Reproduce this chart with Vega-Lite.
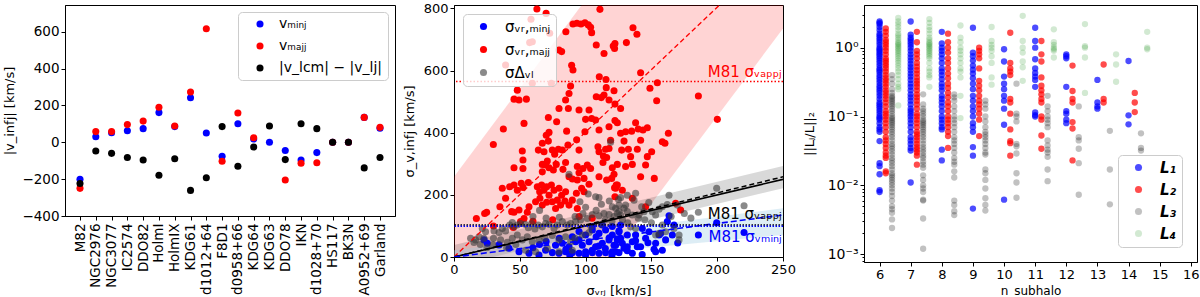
{
 "$schema": "https://vega.github.io/schema/vega-lite/v6.json",
 "padding": {"left": 3, "top": 1, "right": 2, "bottom": 0},
 "spacing": 6,
 "resolve": {"scale": {"color": "independent", "x": "independent", "y": "independent"}},
 "config": {
  "font": "DejaVu Sans",
  "view": {"stroke": "#000", "strokeWidth": 1},
  "axis": {"grid": false, "labelFlush": false, "domainColor": "#000", "tickColor": "#000", "labelColor": "#000", "titleColor": "#000", "labelFontSize": 13, "titleFontSize": 13, "titleFontWeight": "normal", "tickSize": 4, "labelPadding": 2, "titlePadding": 8},
  "legend": {"fillColor": "rgba(255,255,255,0.8)", "strokeColor": "#cccccc", "cornerRadius": 4, "symbolType": "circle", "labelColor": "#000"}
 },
 "datasets": {
  "p1": [
   {"galaxy":"M82","series":"vₘᵢₙⱼ","v":-201},{"galaxy":"NGC2976","series":"vₘᵢₙⱼ","v":30},{"galaxy":"NGC3077","series":"vₘᵢₙⱼ","v":52},{"galaxy":"IC2574","series":"vₘᵢₙⱼ","v":63},{"galaxy":"DDO82","series":"vₘᵢₙⱼ","v":74},{"galaxy":"HolmI","series":"vₘᵢₙⱼ","v":161},{"galaxy":"HolmIX","series":"vₘᵢₙⱼ","v":85},{"galaxy":"KDG61","series":"vₘᵢₙⱼ","v":242},{"galaxy":"d1012+64","series":"vₘᵢₙⱼ","v":50},{"galaxy":"F8D1","series":"vₘᵢₙⱼ","v":-76},{"galaxy":"d0958+66","series":"vₘᵢₙⱼ","v":101},{"galaxy":"KDG64","series":"vₘᵢₙⱼ","v":18},{"galaxy":"KDG63","series":"vₘᵢₙⱼ","v":0},{"galaxy":"DDO78","series":"vₘᵢₙⱼ","v":-45},{"galaxy":"IKN","series":"vₘᵢₙⱼ","v":-96},{"galaxy":"d1028+70","series":"vₘᵢₙⱼ","v":-56},{"galaxy":"HS117","series":"vₘᵢₙⱼ","v":0},{"galaxy":"BK3N","series":"vₘᵢₙⱼ","v":0},{"galaxy":"A0952+69","series":"vₘᵢₙⱼ","v":135},{"galaxy":"Garland","series":"vₘᵢₙⱼ","v":76},
   {"galaxy":"M82","series":"vₘₐⱼⱼ","v":-250},{"galaxy":"NGC2976","series":"vₘₐⱼⱼ","v":58},{"galaxy":"NGC3077","series":"vₘₐⱼⱼ","v":58},{"galaxy":"IC2574","series":"vₘₐⱼⱼ","v":96},{"galaxy":"DDO82","series":"vₘₐⱼⱼ","v":115},{"galaxy":"HolmI","series":"vₘₐⱼⱼ","v":190},{"galaxy":"HolmIX","series":"vₘₐⱼⱼ","v":88},{"galaxy":"KDG61","series":"vₘₐⱼⱼ","v":273},{"galaxy":"d1012+64","series":"vₘₐⱼⱼ","v":616},{"galaxy":"F8D1","series":"vₘₐⱼⱼ","v":-103},{"galaxy":"d0958+66","series":"vₘₐⱼⱼ","v":159},{"galaxy":"KDG64","series":"vₘₐⱼⱼ","v":25},{"galaxy":"DDO78","series":"vₘₐⱼⱼ","v":-205},{"galaxy":"IKN","series":"vₘₐⱼⱼ","v":-114},{"galaxy":"d1028+70","series":"vₘₐⱼⱼ","v":-111},{"galaxy":"HS117","series":"vₘₐⱼⱼ","v":0},{"galaxy":"BK3N","series":"vₘₐⱼⱼ","v":0},{"galaxy":"A0952+69","series":"vₘₐⱼⱼ","v":135},{"galaxy":"Garland","series":"vₘₐⱼⱼ","v":81},
   {"galaxy":"M82","series":"|v_lcm| − |v_lj|","v":-224},{"galaxy":"NGC2976","series":"|v_lcm| − |v_lj|","v":-47},{"galaxy":"NGC3077","series":"|v_lcm| − |v_lj|","v":-60},{"galaxy":"IC2574","series":"|v_lcm| − |v_lj|","v":-83},{"galaxy":"DDO82","series":"|v_lcm| − |v_lj|","v":-96},{"galaxy":"HolmI","series":"|v_lcm| − |v_lj|","v":-179},{"galaxy":"HolmIX","series":"|v_lcm| − |v_lj|","v":-89},{"galaxy":"KDG61","series":"|v_lcm| − |v_lj|","v":-261},{"galaxy":"d1012+64","series":"|v_lcm| − |v_lj|","v":-192},{"galaxy":"F8D1","series":"|v_lcm| − |v_lj|","v":85},{"galaxy":"d0958+66","series":"|v_lcm| − |v_lj|","v":-130},{"galaxy":"KDG64","series":"|v_lcm| − |v_lj|","v":-26},{"galaxy":"KDG63","series":"|v_lcm| − |v_lj|","v":88},{"galaxy":"DDO78","series":"|v_lcm| − |v_lj|","v":-94},{"galaxy":"IKN","series":"|v_lcm| − |v_lj|","v":101},{"galaxy":"d1028+70","series":"|v_lcm| − |v_lj|","v":74},{"galaxy":"HS117","series":"|v_lcm| − |v_lj|","v":0},{"galaxy":"BK3N","series":"|v_lcm| − |v_lj|","v":0},{"galaxy":"A0952+69","series":"|v_lcm| − |v_lj|","v":-139},{"galaxy":"Garland","series":"|v_lcm| − |v_lj|","v":-83}
  ],
  "bands": [
   {"band":"major","x":0,"lo":-673,"hi":258},{"band":"major","x":250,"lo":735,"hi":1683},
   {"band":"dv","x":0,"lo":-30,"hi":39},{"band":"dv","x":250,"lo":221,"hi":293},
   {"band":"minor","x":0,"lo":-29,"hi":22},{"band":"minor","x":250,"lo":71,"hi":157}
  ],
  "fits": [
   {"fit":"major","x":0,"y":0},{"fit":"major","x":250,"y":1005},
   {"fit":"dv","x":0,"y":0},{"fit":"dv","x":250,"y":250},
   {"fit":"dv2","x":0,"y":0},{"fit":"dv2","x":250,"y":258},
   {"fit":"minor","x":0,"y":0},{"fit":"minor","x":250,"y":135}
  ],
  "p2": [
   {"series":"σᵥᵣ,ₘᵢₙⱼ","x":220.4,"y":79},{"series":"σᵥᵣ,ₘᵢₙⱼ","x":185.7,"y":71},{"series":"σᵥᵣ,ₘᵢₙⱼ","x":199.6,"y":110},{"series":"σᵥᵣ,ₘᵢₙⱼ","x":163.4,"y":133},{"series":"σᵥᵣ,ₘᵢₙⱼ","x":160.8,"y":55},{"series":"σᵥᵣ,ₘᵢₙⱼ","x":153.2,"y":17},{"series":"σᵥᵣ,ₘᵢₙⱼ","x":158.3,"y":22},{"series":"σᵥᵣ,ₘᵢₙⱼ","x":139.3,"y":33},{"series":"σᵥᵣ,ₘᵢₙⱼ","x":135.5,"y":49},{"series":"σᵥᵣ,ₘᵢₙⱼ","x":131.7,"y":33},{"series":"σᵥᵣ,ₘᵢₙⱼ","x":127.9,"y":44},{"series":"σᵥᵣ,ₘᵢₙⱼ","x":124.1,"y":55},{"series":"σᵥᵣ,ₘᵢₙⱼ","x":121.6,"y":38},{"series":"σᵥᵣ,ₘᵢₙⱼ","x":131.7,"y":71},{"series":"σᵥᵣ,ₘᵢₙⱼ","x":125.4,"y":84},{"series":"σᵥᵣ,ₘᵢₙⱼ","x":138,"y":71},{"series":"σᵥᵣ,ₘᵢₙⱼ","x":143.1,"y":92},{"series":"σᵥᵣ,ₘᵢₙⱼ","x":145.6,"y":60},{"series":"σᵥᵣ,ₘᵢₙⱼ","x":148.2,"y":81},{"series":"σᵥᵣ,ₘᵢₙⱼ","x":155.8,"y":71},{"series":"σᵥᵣ,ₘᵢₙⱼ","x":165.9,"y":71},{"series":"σᵥᵣ,ₘᵢₙⱼ","x":167.2,"y":103},{"series":"σᵥᵣ,ₘᵢₙⱼ","x":162.1,"y":114},{"series":"σᵥᵣ,ₘᵢₙⱼ","x":122.8,"y":17},{"series":"σᵥᵣ,ₘᵢₙⱼ","x":129.2,"y":28},{"series":"σᵥᵣ,ₘᵢₙⱼ","x":135.5,"y":12},{"series":"σᵥᵣ,ₘᵢₙⱼ","x":153.2,"y":44},
   {"series":"σᵥᵣ,ₘᵢₙⱼ","x":74.7,"y":14},{"series":"σᵥᵣ,ₘᵢₙⱼ","x":79.8,"y":12},{"series":"σᵥᵣ,ₘᵢₙⱼ","x":84.8,"y":17},{"series":"σᵥᵣ,ₘᵢₙⱼ","x":89.9,"y":14},{"series":"σᵥᵣ,ₘᵢₙⱼ","x":95,"y":12},{"series":"σᵥᵣ,ₘᵢₙⱼ","x":100,"y":17},{"series":"σᵥᵣ,ₘᵢₙⱼ","x":105.1,"y":14},{"series":"σᵥᵣ,ₘᵢₙⱼ","x":110.2,"y":12},{"series":"σᵥᵣ,ₘᵢₙⱼ","x":115.2,"y":14},{"series":"σᵥᵣ,ₘᵢₙⱼ","x":120.3,"y":17},{"series":"σᵥᵣ,ₘᵢₙⱼ","x":125.4,"y":14},
   {"series":"σᵥᵣ,ₘᵢₙⱼ","x":77.2,"y":38},{"series":"σᵥᵣ,ₘᵢₙⱼ","x":82.3,"y":44},{"series":"σᵥᵣ,ₘᵢₙⱼ","x":87.4,"y":33},{"series":"σᵥᵣ,ₘᵢₙⱼ","x":92.4,"y":49},{"series":"σᵥᵣ,ₘᵢₙⱼ","x":97.5,"y":38},{"series":"σᵥᵣ,ₘᵢₙⱼ","x":102.6,"y":49},{"series":"σᵥᵣ,ₘᵢₙⱼ","x":107.6,"y":33},{"series":"σᵥᵣ,ₘᵢₙⱼ","x":112.7,"y":44},{"series":"σᵥᵣ,ₘᵢₙⱼ","x":117.8,"y":55},{"series":"σᵥᵣ,ₘᵢₙⱼ","x":122.8,"y":38},{"series":"σᵥᵣ,ₘᵢₙⱼ","x":126.6,"y":60},
   {"series":"σᵥᵣ,ₘᵢₙⱼ","x":89.9,"y":65},{"series":"σᵥᵣ,ₘᵢₙⱼ","x":95,"y":82},{"series":"σᵥᵣ,ₘᵢₙⱼ","x":100,"y":71},{"series":"σᵥᵣ,ₘᵢₙⱼ","x":105.1,"y":87},{"series":"σᵥᵣ,ₘᵢₙⱼ","x":110.2,"y":76},{"series":"σᵥᵣ,ₘᵢₙⱼ","x":115.2,"y":87},{"series":"σᵥᵣ,ₘᵢₙⱼ","x":120.3,"y":71},{"series":"σᵥᵣ,ₘᵢₙⱼ","x":125.4,"y":81},
   {"series":"σᵥᵣ,ₘᵢₙⱼ","x":105.1,"y":98},{"series":"σᵥᵣ,ₘᵢₙⱼ","x":112.7,"y":103},{"series":"σᵥᵣ,ₘᵢₙⱼ","x":120.3,"y":98},{"series":"σᵥᵣ,ₘᵢₙⱼ","x":126.6,"y":103},
   {"series":"σᵥᵣ,ₘᵢₙⱼ","x":22.8,"y":55},{"series":"σᵥᵣ,ₘᵢₙⱼ","x":34.2,"y":39},{"series":"σᵥᵣ,ₘᵢₙⱼ","x":41.8,"y":28},{"series":"σᵥᵣ,ₘᵢₙⱼ","x":49.4,"y":17},{"series":"σᵥᵣ,ₘᵢₙⱼ","x":57,"y":12},{"series":"σᵥᵣ,ₘᵢₙⱼ","x":64.6,"y":6},{"series":"σᵥᵣ,ₘᵢₙⱼ","x":69.6,"y":22},{"series":"σᵥᵣ,ₘᵢₙⱼ","x":25.3,"y":44},
   {"series":"σᵥᵣ,ₘᵢₙⱼ","x":138,"y":52},{"series":"σᵥᵣ,ₘᵢₙⱼ","x":147.4,"y":46},{"series":"σᵥᵣ,ₘᵢₙⱼ","x":141.8,"y":33},{"series":"σᵥᵣ,ₘᵢₙⱼ","x":131.7,"y":20},{"series":"σᵥᵣ,ₘᵢₙⱼ","x":152,"y":25},{"series":"σᵥᵣ,ₘᵢₙⱼ","x":157,"y":76},{"series":"σᵥᵣ,ₘᵢₙⱼ","x":110,"y":35},{"series":"σᵥᵣ,ₘᵢₙⱼ","x":143,"y":8},{"series":"σᵥᵣ,ₘᵢₙⱼ","x":120,"y":5},{"series":"σᵥᵣ,ₘᵢₙⱼ","x":100,"y":6},{"series":"σᵥᵣ,ₘᵢₙⱼ","x":88,"y":6},{"series":"σᵥᵣ,ₘᵢₙⱼ","x":60,"y":30},{"series":"σᵥᵣ,ₘᵢₙⱼ","x":65,"y":40},{"series":"σᵥᵣ,ₘᵢₙⱼ","x":70,"y":50},{"series":"σᵥᵣ,ₘᵢₙⱼ","x":80,"y":60},{"series":"σᵥᵣ,ₘᵢₙⱼ","x":85,"y":25},{"series":"σᵥᵣ,ₘᵢₙⱼ","x":95,"y":55},{"series":"σᵥᵣ,ₘᵢₙⱼ","x":105,"y":22},{"series":"σᵥᵣ,ₘᵢₙⱼ","x":115,"y":27},{"series":"σᵥᵣ,ₘᵢₙⱼ","x":118,"y":62},{"series":"σᵥᵣ,ₘᵢₙⱼ","x":108,"y":65},{"series":"σᵥᵣ,ₘᵢₙⱼ","x":170,"y":45},
   {"series":"σᵥᵣ,ₘₐⱼⱼ","x":63,"y":798},{"series":"σᵥᵣ,ₘₐⱼⱼ","x":70,"y":784},{"series":"σᵥᵣ,ₘₐⱼⱼ","x":72.7,"y":720},{"series":"σᵥᵣ,ₘₐⱼⱼ","x":90.4,"y":750},{"series":"σᵥᵣ,ₘₐⱼⱼ","x":93.4,"y":752},{"series":"σᵥᵣ,ₘₐⱼⱼ","x":96.5,"y":750},{"series":"σᵥᵣ,ₘₐⱼⱼ","x":99.5,"y":754},{"series":"σᵥᵣ,ₘₐⱼⱼ","x":102.1,"y":747},{"series":"σᵥᵣ,ₘₐⱼⱼ","x":103.8,"y":739},{"series":"σᵥᵣ,ₘₐⱼⱼ","x":104.6,"y":722},{"series":"σᵥᵣ,ₘₐⱼⱼ","x":85,"y":725},{"series":"σᵥᵣ,ₘₐⱼⱼ","x":79.8,"y":666},{"series":"σᵥᵣ,ₘₐⱼⱼ","x":81.8,"y":661},{"series":"σᵥᵣ,ₘₐⱼⱼ","x":89.4,"y":617},{"series":"σᵥᵣ,ₘₐⱼⱼ","x":90.4,"y":602},{"series":"σᵥᵣ,ₘₐⱼⱼ","x":108.1,"y":682},{"series":"σᵥᵣ,ₘₐⱼⱼ","x":121,"y":679},{"series":"σᵥᵣ,ₘₐⱼⱼ","x":122.3,"y":687},{"series":"σᵥᵣ,ₘₐⱼⱼ","x":114,"y":655},{"series":"σᵥᵣ,ₘₐⱼⱼ","x":74,"y":559},{"series":"σᵥᵣ,ₘₐⱼⱼ","x":48.1,"y":537},{"series":"σᵥᵣ,ₘₐⱼⱼ","x":45.6,"y":508},{"series":"σᵥᵣ,ₘₐⱼⱼ","x":49.4,"y":505},{"series":"σᵥᵣ,ₘₐⱼⱼ","x":55,"y":508},{"series":"σᵥᵣ,ₘₐⱼⱼ","x":88.6,"y":550},{"series":"σᵥᵣ,ₘₐⱼⱼ","x":87.4,"y":526},{"series":"σᵥᵣ,ₘₐⱼⱼ","x":84.8,"y":505},{"series":"σᵥᵣ,ₘₐⱼⱼ","x":108.1,"y":516},{"series":"σᵥᵣ,ₘₐⱼⱼ","x":111.9,"y":513},{"series":"σᵥᵣ,ₘₐⱼⱼ","x":114,"y":521},{"series":"σᵥᵣ,ₘₐⱼⱼ","x":115.7,"y":545},{"series":"σᵥᵣ,ₘₐⱼⱼ","x":117.8,"y":505},{"series":"σᵥᵣ,ₘₐⱼⱼ","x":110.4,"y":580},{"series":"σᵥᵣ,ₘₐⱼⱼ","x":115.5,"y":571},{"series":"σᵥᵣ,ₘₐⱼⱼ","x":79.8,"y":478},{"series":"σᵥᵣ,ₘₐⱼⱼ","x":71.7,"y":449},{"series":"σᵥᵣ,ₘₐⱼⱼ","x":53.2,"y":430},{"series":"σᵥᵣ,ₘₐⱼⱼ","x":86.9,"y":478},{"series":"σᵥᵣ,ₘₐⱼⱼ","x":95,"y":473},{"series":"σᵥᵣ,ₘₐⱼⱼ","x":102.6,"y":473},{"series":"σᵥᵣ,ₘₐⱼⱼ","x":100,"y":443},{"series":"σᵥᵣ,ₘₐⱼⱼ","x":104.6,"y":446},{"series":"σᵥᵣ,ₘₐⱼⱼ","x":107.6,"y":441},{"series":"σᵥᵣ,ₘₐⱼⱼ","x":78,"y":435},{"series":"σᵥᵣ,ₘₐⱼⱼ","x":99.5,"y":403},{"series":"σᵥᵣ,ₘₐⱼⱼ","x":110.2,"y":409},{"series":"σᵥᵣ,ₘₐⱼⱼ","x":117.8,"y":419},{"series":"σᵥᵣ,ₘₐⱼⱼ","x":122.3,"y":439},{"series":"σᵥᵣ,ₘₐⱼⱼ","x":110.9,"y":797},
   {"series":"σᵥᵣ,ₘₐⱼⱼ","x":58.5,"y":765},{"series":"σᵥᵣ,ₘₐⱼⱼ","x":59.5,"y":693},{"series":"σᵥᵣ,ₘₐⱼⱼ","x":57.5,"y":690},{"series":"σᵥᵣ,ₘₐⱼⱼ","x":39.2,"y":618},{"series":"σᵥᵣ,ₘₐⱼⱼ","x":59.5,"y":559},
   {"series":"σᵥᵣ,ₘₐⱼⱼ","x":136,"y":738},{"series":"σᵥᵣ,ₘₐⱼⱼ","x":139,"y":717},{"series":"σᵥᵣ,ₘₐⱼⱼ","x":131,"y":690},{"series":"σᵥᵣ,ₘₐⱼⱼ","x":122,"y":671},{"series":"σᵥᵣ,ₘₐⱼⱼ","x":141.8,"y":593},{"series":"σᵥᵣ,ₘₐⱼⱼ","x":121.6,"y":535},{"series":"σᵥᵣ,ₘₐⱼⱼ","x":148.9,"y":543},{"series":"σᵥᵣ,ₘₐⱼⱼ","x":154.5,"y":561},{"series":"σᵥᵣ,ₘₐⱼⱼ","x":154,"y":503},{"series":"σᵥᵣ,ₘₐⱼⱼ","x":185.7,"y":518},{"series":"σᵥᵣ,ₘₐⱼⱼ","x":200.1,"y":443},{"series":"σᵥᵣ,ₘₐⱼⱼ","x":122.3,"y":492},{"series":"σᵥᵣ,ₘₐⱼⱼ","x":126.6,"y":478},{"series":"σᵥᵣ,ₘₐⱼⱼ","x":124.1,"y":432},{"series":"σᵥᵣ,ₘₐⱼⱼ","x":138,"y":432},{"series":"σᵥᵣ,ₘₐⱼⱼ","x":162.9,"y":398},
   {"series":"σᵥᵣ,ₘₐⱼⱼ","x":37.5,"y":412},{"series":"σᵥᵣ,ₘₐⱼⱼ","x":29.9,"y":362},{"series":"σᵥᵣ,ₘₐⱼⱼ","x":51.9,"y":341},{"series":"σᵥᵣ,ₘₐⱼⱼ","x":52.4,"y":312},{"series":"σᵥᵣ,ₘₐⱼⱼ","x":64.1,"y":344},{"series":"σᵥᵣ,ₘₐⱼⱼ","x":68.4,"y":339},{"series":"σᵥᵣ,ₘₐⱼⱼ","x":67.1,"y":366},{"series":"σᵥᵣ,ₘₐⱼⱼ","x":71.7,"y":373},{"series":"σᵥᵣ,ₘₐⱼⱼ","x":72.2,"y":401},{"series":"σᵥᵣ,ₘₐⱼⱼ","x":70.1,"y":392},{"series":"σᵥᵣ,ₘₐⱼⱼ","x":74.7,"y":344},{"series":"σᵥᵣ,ₘₐⱼⱼ","x":76.5,"y":331},{"series":"σᵥᵣ,ₘₐⱼⱼ","x":79.3,"y":347},{"series":"σᵥᵣ,ₘₐⱼⱼ","x":82.3,"y":344},{"series":"σᵥᵣ,ₘₐⱼⱼ","x":85.6,"y":405},{"series":"σᵥᵣ,ₘₐⱼⱼ","x":86.6,"y":360},{"series":"σᵥᵣ,ₘₐⱼⱼ","x":93.2,"y":377},{"series":"σᵥᵣ,ₘₐⱼⱼ","x":95,"y":344},{"series":"σᵥᵣ,ₘₐⱼⱼ","x":110.2,"y":339},{"series":"σᵥᵣ,ₘₐⱼⱼ","x":113.5,"y":325},{"series":"σᵥᵣ,ₘₐⱼⱼ","x":115.2,"y":347},{"series":"σᵥᵣ,ₘₐⱼⱼ","x":117.8,"y":349},{"series":"σᵥᵣ,ₘₐⱼⱼ","x":116,"y":320},{"series":"σᵥᵣ,ₘₐⱼⱼ","x":109.4,"y":355},{"series":"σᵥᵣ,ₘₐⱼⱼ","x":113.2,"y":304},{"series":"σᵥᵣ,ₘₐⱼⱼ","x":119,"y":376},{"series":"σᵥᵣ,ₘₐⱼⱼ","x":120.3,"y":287},{"series":"σᵥᵣ,ₘₐⱼⱼ","x":67.1,"y":298},{"series":"σᵥᵣ,ₘₐⱼⱼ","x":69.6,"y":296},{"series":"σᵥᵣ,ₘₐⱼⱼ","x":70.9,"y":309},{"series":"σᵥᵣ,ₘₐⱼⱼ","x":72.2,"y":287},{"series":"σᵥᵣ,ₘₐⱼⱼ","x":77.7,"y":298},{"series":"σᵥᵣ,ₘₐⱼⱼ","x":75.5,"y":280},{"series":"σᵥᵣ,ₘₐⱼⱼ","x":67.1,"y":274},{"series":"σᵥᵣ,ₘₐⱼⱼ","x":45.6,"y":287},{"series":"σᵥᵣ,ₘₐⱼⱼ","x":52.4,"y":285},{"series":"σᵥᵣ,ₘₐⱼⱼ","x":82.8,"y":282},{"series":"σᵥᵣ,ₘₐⱼⱼ","x":84.8,"y":304},{"series":"σᵥᵣ,ₘₐⱼⱼ","x":93.7,"y":291},{"series":"σᵥᵣ,ₘₐⱼⱼ","x":95,"y":271},{"series":"σᵥᵣ,ₘₐⱼⱼ","x":98,"y":285},{"series":"σᵥᵣ,ₘₐⱼⱼ","x":101.3,"y":296},{"series":"σᵥᵣ,ₘₐⱼⱼ","x":87.4,"y":258},{"series":"σᵥᵣ,ₘₐⱼⱼ","x":90,"y":251},{"series":"σᵥᵣ,ₘₐⱼⱼ","x":93.7,"y":248},{"series":"σᵥᵣ,ₘₐⱼⱼ","x":36.7,"y":221},{"series":"σᵥᵣ,ₘₐⱼⱼ","x":42.3,"y":226},{"series":"σᵥᵣ,ₘₐⱼⱼ","x":45.6,"y":232},{"series":"σᵥᵣ,ₘₐⱼⱼ","x":51.1,"y":237},{"series":"σᵥᵣ,ₘₐⱼⱼ","x":48.1,"y":215},{"series":"σᵥᵣ,ₘₐⱼⱼ","x":52.4,"y":224},{"series":"σᵥᵣ,ₘₐⱼⱼ","x":56.5,"y":240},{"series":"σᵥᵣ,ₘₐⱼⱼ","x":63.3,"y":226},{"series":"σᵥᵣ,ₘₐⱼⱼ","x":66.6,"y":232},{"series":"σᵥᵣ,ₘₐⱼⱼ","x":65.1,"y":210},{"series":"σᵥᵣ,ₘₐⱼⱼ","x":68.4,"y":215},{"series":"σᵥᵣ,ₘₐⱼⱼ","x":70.4,"y":226},{"series":"σᵥᵣ,ₘₐⱼⱼ","x":74,"y":232},{"series":"σᵥᵣ,ₘₐⱼⱼ","x":76,"y":215},{"series":"σᵥᵣ,ₘₐⱼⱼ","x":72.2,"y":199},{"series":"σᵥᵣ,ₘₐⱼⱼ","x":79.8,"y":221},{"series":"σᵥᵣ,ₘₐⱼⱼ","x":81.8,"y":199},{"series":"σᵥᵣ,ₘₐⱼⱼ","x":78.5,"y":183},{"series":"σᵥᵣ,ₘₐⱼⱼ","x":84.8,"y":210},{"series":"σᵥᵣ,ₘₐⱼⱼ","x":65.3,"y":189},{"series":"σᵥᵣ,ₘₐⱼⱼ","x":62,"y":178},{"series":"σᵥᵣ,ₘₐⱼⱼ","x":67.1,"y":167},{"series":"σᵥᵣ,ₘₐⱼⱼ","x":70.4,"y":176},{"series":"σᵥᵣ,ₘₐⱼⱼ","x":57,"y":162},{"series":"σᵥᵣ,ₘₐⱼⱼ","x":55.7,"y":144},{"series":"σᵥᵣ,ₘₐⱼⱼ","x":49.4,"y":151},{"series":"σᵥᵣ,ₘₐⱼⱼ","x":45.6,"y":144},{"series":"σᵥᵣ,ₘₐⱼⱼ","x":24.8,"y":144},{"series":"σᵥᵣ,ₘₐⱼⱼ","x":23.3,"y":140},{"series":"σᵥᵣ,ₘₐⱼⱼ","x":17,"y":124},{"series":"σᵥᵣ,ₘₐⱼⱼ","x":34.9,"y":162},{"series":"σᵥᵣ,ₘₐⱼⱼ","x":39.2,"y":189},{"series":"σᵥᵣ,ₘₐⱼⱼ","x":74.7,"y":178},{"series":"σᵥᵣ,ₘₐⱼⱼ","x":77.2,"y":156},{"series":"σᵥᵣ,ₘₐⱼⱼ","x":81,"y":167},{"series":"σᵥᵣ,ₘₐⱼⱼ","x":84.3,"y":180},{"series":"σᵥᵣ,ₘₐⱼⱼ","x":87.4,"y":167},{"series":"σᵥᵣ,ₘₐⱼⱼ","x":89.9,"y":183},{"series":"σᵥᵣ,ₘₐⱼⱼ","x":93,"y":205},{"series":"σᵥᵣ,ₘₐⱼⱼ","x":97,"y":221},{"series":"σᵥᵣ,ₘₐⱼⱼ","x":93.7,"y":156},{"series":"σᵥᵣ,ₘₐⱼⱼ","x":110.2,"y":258},{"series":"σᵥᵣ,ₘₐⱼⱼ","x":116,"y":248},{"series":"σᵥᵣ,ₘₐⱼⱼ","x":119.8,"y":253},{"series":"σᵥᵣ,ₘₐⱼⱼ","x":122,"y":223},{"series":"σᵥᵣ,ₘₐⱼⱼ","x":124.1,"y":232},{"series":"σᵥᵣ,ₘₐⱼⱼ","x":102.6,"y":234},{"series":"σᵥᵣ,ₘₐⱼⱼ","x":98.8,"y":210},{"series":"σᵥᵣ,ₘₐⱼⱼ","x":98.8,"y":253},{"series":"σᵥᵣ,ₘₐⱼⱼ","x":103.8,"y":285},{"series":"σᵥᵣ,ₘₐⱼⱼ","x":43.8,"y":146},{"series":"σᵥᵣ,ₘₐⱼⱼ","x":50.6,"y":114},{"series":"σᵥᵣ,ₘₐⱼⱼ","x":53.2,"y":124},{"series":"σᵥᵣ,ₘₐⱼⱼ","x":30,"y":100},{"series":"σᵥᵣ,ₘₐⱼⱼ","x":45,"y":95},{"series":"σᵥᵣ,ₘₐⱼⱼ","x":60,"y":115},{"series":"σᵥᵣ,ₘₐⱼⱼ","x":75,"y":120},{"series":"σᵥᵣ,ₘₐⱼⱼ","x":95,"y":130},{"series":"σᵥᵣ,ₘₐⱼⱼ","x":105,"y":125},
   {"series":"σᵥᵣ,ₘₐⱼⱼ","x":130.4,"y":403},{"series":"σᵥᵣ,ₘₐⱼⱼ","x":126.6,"y":398},{"series":"σᵥᵣ,ₘₐⱼⱼ","x":135,"y":405},{"series":"σᵥᵣ,ₘₐⱼⱼ","x":140,"y":412},{"series":"σᵥᵣ,ₘₐⱼⱼ","x":143.6,"y":409},{"series":"σᵥᵣ,ₘₐⱼⱼ","x":146.9,"y":416},{"series":"σᵥᵣ,ₘₐⱼⱼ","x":127.4,"y":344},{"series":"σᵥᵣ,ₘₐⱼⱼ","x":129.2,"y":373},{"series":"σᵥᵣ,ₘₐⱼⱼ","x":132.5,"y":347},{"series":"σᵥᵣ,ₘₐⱼⱼ","x":134.2,"y":323},{"series":"σᵥᵣ,ₘₐⱼⱼ","x":139.3,"y":347},{"series":"σᵥᵣ,ₘₐⱼⱼ","x":141.8,"y":376},{"series":"σᵥᵣ,ₘₐⱼⱼ","x":146.9,"y":323},{"series":"σᵥᵣ,ₘₐⱼⱼ","x":150.2,"y":339},{"series":"σᵥᵣ,ₘₐⱼⱼ","x":158.3,"y":371},{"series":"σᵥᵣ,ₘₐⱼⱼ","x":160.3,"y":366},{"series":"σᵥᵣ,ₘₐⱼⱼ","x":145.6,"y":296},{"series":"σᵥᵣ,ₘₐⱼⱼ","x":152.2,"y":253},{"series":"σᵥᵣ,ₘₐⱼⱼ","x":141.8,"y":258},{"series":"σᵥᵣ,ₘₐⱼⱼ","x":135.5,"y":298},{"series":"σᵥᵣ,ₘₐⱼⱼ","x":130.4,"y":291},{"series":"σᵥᵣ,ₘₐⱼⱼ","x":124.1,"y":298},{"series":"σᵥᵣ,ₘₐⱼⱼ","x":121.6,"y":266},{"series":"σᵥᵣ,ₘₐⱼⱼ","x":123.3,"y":232},{"series":"σᵥᵣ,ₘₐⱼⱼ","x":122.8,"y":221},{"series":"σᵥᵣ,ₘₐⱼⱼ","x":127.9,"y":215},{"series":"σᵥᵣ,ₘₐⱼⱼ","x":122.3,"y":194},{"series":"σᵥᵣ,ₘₐⱼⱼ","x":145.6,"y":162},{"series":"σᵥᵣ,ₘₐⱼⱼ","x":172.2,"y":151},{"series":"σᵥᵣ,ₘₐⱼⱼ","x":168.4,"y":173},{"series":"σᵥᵣ,ₘₐⱼⱼ","x":135.5,"y":189},
   {"series":"σΔᵥₗ","x":119,"y":369},{"series":"σΔᵥₗ","x":87.4,"y":266},{"series":"σΔᵥₗ","x":102,"y":203},{"series":"σΔᵥₗ","x":107.6,"y":194},{"series":"σΔᵥₗ","x":110.2,"y":191},{"series":"σΔᵥₗ","x":95.7,"y":178},{"series":"σΔᵥₗ","x":120.3,"y":162},{"series":"σΔᵥₗ","x":125.4,"y":167},{"series":"σΔᵥₗ","x":124.1,"y":140},{"series":"σΔᵥₗ","x":126.6,"y":135},{"series":"σΔᵥₗ","x":117.8,"y":137},{"series":"σΔᵥₗ","x":114,"y":140},{"series":"σΔᵥₗ","x":110.2,"y":133},{"series":"σΔᵥₗ","x":105.1,"y":137},{"series":"σΔᵥₗ","x":101.3,"y":124},{"series":"σΔᵥₗ","x":96.2,"y":119},{"series":"σΔᵥₗ","x":92.4,"y":114},{"series":"σΔᵥₗ","x":88.6,"y":108},{"series":"σΔᵥₗ","x":86.1,"y":103},{"series":"σΔᵥₗ","x":82.3,"y":114},{"series":"σΔᵥₗ","x":78.5,"y":103},{"series":"σΔᵥₗ","x":76,"y":92},{"series":"σΔᵥₗ","x":72.2,"y":105},{"series":"σΔᵥₗ","x":69.6,"y":108},{"series":"σΔᵥₗ","x":67.1,"y":97},{"series":"σΔᵥₗ","x":64,"y":103},{"series":"σΔᵥₗ","x":61.5,"y":90},{"series":"σΔᵥₗ","x":59,"y":108},{"series":"σΔᵥₗ","x":56.5,"y":94},{"series":"σΔᵥₗ","x":54,"y":105},{"series":"σΔᵥₗ","x":50.6,"y":108},{"series":"σΔᵥₗ","x":48.1,"y":103},{"series":"σΔᵥₗ","x":45.6,"y":97},{"series":"σΔᵥₗ","x":44.3,"y":111},{"series":"σΔᵥₗ","x":42.3,"y":103},{"series":"σΔᵥₗ","x":39.2,"y":84},{"series":"σΔᵥₗ","x":36.7,"y":92},{"series":"σΔᵥₗ","x":34.2,"y":79},{"series":"σΔᵥₗ","x":30.4,"y":84},{"series":"σΔᵥₗ","x":24,"y":81},{"series":"σΔᵥₗ","x":21.5,"y":92},{"series":"σΔᵥₗ","x":19,"y":65},{"series":"σΔᵥₗ","x":15.2,"y":47},{"series":"σΔᵥₗ","x":12.6,"y":60},{"series":"σΔᵥₗ","x":29.6,"y":39},{"series":"σΔᵥₗ","x":35.4,"y":55},{"series":"σΔᵥₗ","x":40.5,"y":47},{"series":"σΔᵥₗ","x":44.3,"y":60},{"series":"σΔᵥₗ","x":48.1,"y":71},{"series":"σΔᵥₗ","x":51.9,"y":55},{"series":"σΔᵥₗ","x":55.7,"y":65},{"series":"σΔᵥₗ","x":59.5,"y":49},{"series":"σΔᵥₗ","x":64.6,"y":55},{"series":"σΔᵥₗ","x":69.1,"y":60},{"series":"σΔᵥₗ","x":74.7,"y":69},{"series":"σΔᵥₗ","x":79.8,"y":55},{"series":"σΔᵥₗ","x":84.8,"y":65},{"series":"σΔᵥₗ","x":88.6,"y":49},{"series":"σΔᵥₗ","x":91.9,"y":60},{"series":"σΔᵥₗ","x":97.5,"y":71},{"series":"σΔᵥₗ","x":102.6,"y":79},{"series":"σΔᵥₗ","x":54.4,"y":22},{"series":"σΔᵥₗ","x":62,"y":17},{"series":"σΔᵥₗ","x":70.9,"y":28},{"series":"σΔᵥₗ","x":79.8,"y":17},{"series":"σΔᵥₗ","x":89.9,"y":22},{"series":"σΔᵥₗ","x":22.8,"y":60},{"series":"σΔᵥₗ","x":16.4,"y":55},
   {"series":"σΔᵥₗ","x":98,"y":140},{"series":"σΔᵥₗ","x":108,"y":150},{"series":"σΔᵥₗ","x":115,"y":120},{"series":"σΔᵥₗ","x":112,"y":105},{"series":"σΔᵥₗ","x":120,"y":115},{"series":"σΔᵥₗ","x":104,"y":98},{"series":"σΔᵥₗ","x":92,"y":130},{"series":"σΔᵥₗ","x":80,"y":128},{"series":"σΔᵥₗ","x":70,"y":125},{"series":"σΔᵥₗ","x":60,"y":130},{"series":"σΔᵥₗ","x":100,"y":160},{"series":"σΔᵥₗ","x":118,"y":180},{"series":"σΔᵥₗ","x":125,"y":185},{"series":"σΔᵥₗ","x":112,"y":170},{"series":"σΔᵥₗ","x":65,"y":150},{"series":"σΔᵥₗ","x":30,"y":60},{"series":"σΔᵥₗ","x":25,"y":30},{"series":"σΔᵥₗ","x":20,"y":40},{"series":"σΔᵥₗ","x":40,"y":30},{"series":"σΔᵥₗ","x":47,"y":40},
   {"series":"σΔᵥₗ","x":199.6,"y":221},{"series":"σΔᵥₗ","x":220.4,"y":165},{"series":"σΔᵥₗ","x":185.7,"y":144},{"series":"σΔᵥₗ","x":163.4,"y":199},{"series":"σΔᵥₗ","x":169.7,"y":167},{"series":"σΔᵥₗ","x":162.1,"y":169},{"series":"σΔᵥₗ","x":158.3,"y":162},{"series":"σΔᵥₗ","x":155.8,"y":154},{"series":"σΔᵥₗ","x":150.7,"y":146},{"series":"σΔᵥₗ","x":153.2,"y":135},{"series":"σΔᵥₗ","x":144.4,"y":146},{"series":"σΔᵥₗ","x":140.6,"y":135},{"series":"σΔᵥₗ","x":135.5,"y":135},{"series":"σΔᵥₗ","x":131.7,"y":146},{"series":"σΔᵥₗ","x":129.2,"y":157},{"series":"σΔᵥₗ","x":125.4,"y":146},{"series":"σΔᵥₗ","x":122.8,"y":157},{"series":"σΔᵥₗ","x":121.6,"y":130},{"series":"σΔᵥₗ","x":138,"y":205},{"series":"σΔᵥₗ","x":131.7,"y":199},{"series":"σΔᵥₗ","x":136.8,"y":183},{"series":"σΔᵥₗ","x":126.6,"y":191},{"series":"σΔᵥₗ","x":130.4,"y":167},{"series":"σΔᵥₗ","x":142.6,"y":162},{"series":"σΔᵥₗ","x":158.3,"y":103},{"series":"σΔᵥₗ","x":160.8,"y":81},{"series":"σΔᵥₗ","x":171,"y":71},{"series":"σΔᵥₗ","x":171,"y":55},{"series":"σΔᵥₗ","x":155.8,"y":76},{"series":"σΔᵥₗ","x":167.2,"y":92},{"series":"σΔᵥₗ","x":153.2,"y":71},{"series":"σΔᵥₗ","x":134.2,"y":97},{"series":"σΔᵥₗ","x":138,"y":92},{"series":"σΔᵥₗ","x":145,"y":120},{"series":"σΔᵥₗ","x":150,"y":110},{"series":"σΔᵥₗ","x":128,"y":120},{"series":"σΔᵥₗ","x":140,"y":125},{"series":"σΔᵥₗ","x":132,"y":110},{"series":"σΔᵥₗ","x":148,"y":175},{"series":"σΔᵥₗ","x":165,"y":130},{"series":"σΔᵥₗ","x":175,"y":140},{"series":"σΔᵥₗ","x":180,"y":125}
  ],
  "p3": [
   {"series":"L₁","x":6,"y":2.4},{"series":"L₁","x":6,"y":2.3},{"series":"L₁","x":6,"y":2.2},{"series":"L₁","x":6,"y":2.0},{"series":"L₁","x":6,"y":1.8},{"series":"L₁","x":6,"y":1.6},{"series":"L₁","x":6,"y":1.5},{"series":"L₁","x":6,"y":1.4},{"series":"L₁","x":6,"y":1.3},{"series":"L₁","x":6,"y":1.2},{"series":"L₁","x":6,"y":1.1},{"series":"L₁","x":6,"y":1.0},{"series":"L₁","x":6,"y":0.95},{"series":"L₁","x":6,"y":0.9},{"series":"L₁","x":6,"y":0.85},{"series":"L₁","x":6,"y":0.8},{"series":"L₁","x":6,"y":0.75},{"series":"L₁","x":6,"y":0.7},{"series":"L₁","x":6,"y":0.65},{"series":"L₁","x":6,"y":0.6},{"series":"L₁","x":6,"y":0.55},{"series":"L₁","x":6,"y":0.5},{"series":"L₁","x":6,"y":0.47},{"series":"L₁","x":6,"y":0.44},{"series":"L₁","x":6,"y":0.4},{"series":"L₁","x":6,"y":0.37},{"series":"L₁","x":6,"y":0.34},{"series":"L₁","x":6,"y":0.31},{"series":"L₁","x":6,"y":0.28},{"series":"L₁","x":6,"y":0.26},{"series":"L₁","x":6,"y":0.24},{"series":"L₁","x":6,"y":0.22},{"series":"L₁","x":6,"y":0.2},{"series":"L₁","x":6,"y":0.18},{"series":"L₁","x":6,"y":0.16},{"series":"L₁","x":6,"y":0.15},{"series":"L₁","x":6,"y":0.14},{"series":"L₁","x":6,"y":0.13},{"series":"L₁","x":6,"y":0.12},{"series":"L₁","x":6,"y":0.11},{"series":"L₁","x":6,"y":0.1},{"series":"L₁","x":6,"y":0.095},{"series":"L₁","x":6,"y":0.09},{"series":"L₁","x":6,"y":0.08},{"series":"L₁","x":6,"y":0.07},{"series":"L₁","x":6,"y":0.065},{"series":"L₁","x":6,"y":0.06},{"series":"L₁","x":6,"y":0.044},{"series":"L₁","x":6,"y":0.021},{"series":"L₁","x":6,"y":0.019},{"series":"L₁","x":6,"y":0.0145},{"series":"L₁","x":6,"y":0.0085},{"series":"L₁","x":6,"y":0.008},
   {"series":"L₁","x":7,"y":2.4},{"series":"L₁","x":7,"y":1.55},{"series":"L₁","x":7,"y":1.4},{"series":"L₁","x":7,"y":1.3},{"series":"L₁","x":7,"y":1.2},{"series":"L₁","x":7,"y":1.1},{"series":"L₁","x":7,"y":1.0},{"series":"L₁","x":7,"y":0.9},{"series":"L₁","x":7,"y":0.8},{"series":"L₁","x":7,"y":0.72},{"series":"L₁","x":7,"y":0.65},{"series":"L₁","x":7,"y":0.58},{"series":"L₁","x":7,"y":0.52},{"series":"L₁","x":7,"y":0.47},{"series":"L₁","x":7,"y":0.42},{"series":"L₁","x":7,"y":0.38},{"series":"L₁","x":7,"y":0.34},{"series":"L₁","x":7,"y":0.3},{"series":"L₁","x":7,"y":0.27},{"series":"L₁","x":7,"y":0.24},{"series":"L₁","x":7,"y":0.21},{"series":"L₁","x":7,"y":0.19},{"series":"L₁","x":7,"y":0.17},{"series":"L₁","x":7,"y":0.15},{"series":"L₁","x":7,"y":0.13},{"series":"L₁","x":7,"y":0.12},{"series":"L₁","x":7,"y":0.11},{"series":"L₁","x":7,"y":0.1},{"series":"L₁","x":7,"y":0.09},{"series":"L₁","x":7,"y":0.08},{"series":"L₁","x":7,"y":0.07},{"series":"L₁","x":7,"y":0.06},{"series":"L₁","x":7,"y":0.05},{"series":"L₁","x":7,"y":0.045},{"series":"L₁","x":7,"y":0.04},{"series":"L₁","x":7,"y":0.035},{"series":"L₁","x":7,"y":0.032},{"series":"L₁","x":7,"y":0.011},
   {"series":"L₁","x":8,"y":1.7},{"series":"L₁","x":8,"y":1.15},{"series":"L₁","x":8,"y":1.0},{"series":"L₁","x":8,"y":0.9},{"series":"L₁","x":8,"y":0.8},{"series":"L₁","x":8,"y":0.7},{"series":"L₁","x":8,"y":0.6},{"series":"L₁","x":8,"y":0.5},{"series":"L₁","x":8,"y":0.45},{"series":"L₁","x":8,"y":0.4},{"series":"L₁","x":8,"y":0.35},{"series":"L₁","x":8,"y":0.3},{"series":"L₁","x":8,"y":0.27},{"series":"L₁","x":8,"y":0.24},{"series":"L₁","x":8,"y":0.2},{"series":"L₁","x":8,"y":0.18},{"series":"L₁","x":8,"y":0.16},{"series":"L₁","x":8,"y":0.14},{"series":"L₁","x":8,"y":0.12},{"series":"L₁","x":8,"y":0.1},{"series":"L₁","x":8,"y":0.09},{"series":"L₁","x":8,"y":0.08},{"series":"L₁","x":8,"y":0.07},{"series":"L₁","x":8,"y":0.065},{"series":"L₁","x":8,"y":0.033},{"series":"L₁","x":8,"y":0.023},
   {"series":"L₁","x":9,"y":1.95},{"series":"L₁","x":9,"y":0.85},{"series":"L₁","x":9,"y":0.75},{"series":"L₁","x":9,"y":0.65},{"series":"L₁","x":9,"y":0.55},{"series":"L₁","x":9,"y":0.48},{"series":"L₁","x":9,"y":0.42},{"series":"L₁","x":9,"y":0.36},{"series":"L₁","x":9,"y":0.3},{"series":"L₁","x":9,"y":0.25},{"series":"L₁","x":9,"y":0.2},{"series":"L₁","x":9,"y":0.17},{"series":"L₁","x":9,"y":0.14},{"series":"L₁","x":9,"y":0.12},{"series":"L₁","x":9,"y":0.1},{"series":"L₁","x":9,"y":0.08},{"series":"L₁","x":9,"y":0.07},{"series":"L₁","x":9,"y":0.06},{"series":"L₁","x":9,"y":0.036},{"series":"L₁","x":9,"y":0.027},{"series":"L₁","x":9,"y":0.0046},
   {"series":"L₁","x":10,"y":0.95},{"series":"L₁","x":10,"y":0.63},{"series":"L₁","x":10,"y":0.38},{"series":"L₁","x":10,"y":0.3},{"series":"L₁","x":10,"y":0.25},{"series":"L₁","x":10,"y":0.2},{"series":"L₁","x":10,"y":0.17},{"series":"L₁","x":10,"y":0.13},{"series":"L₁","x":10,"y":0.076},{"series":"L₁","x":10,"y":0.0062},
   {"series":"L₁","x":11,"y":1.95},{"series":"L₁","x":11,"y":1.25},{"series":"L₁","x":11,"y":1.0},{"series":"L₁","x":11,"y":0.68},{"series":"L₁","x":11,"y":0.5},{"series":"L₁","x":11,"y":0.43},{"series":"L₁","x":11,"y":0.38},{"series":"L₁","x":11,"y":0.34},{"series":"L₁","x":11,"y":0.27},{"series":"L₁","x":11,"y":0.115},{"series":"L₁","x":11,"y":0.105},{"series":"L₁","x":11,"y":0.1},
   {"series":"L₁","x":12,"y":0.8},{"series":"L₁","x":12,"y":0.75},{"series":"L₁","x":12,"y":0.7},{"series":"L₁","x":12,"y":0.27},{"series":"L₁","x":12,"y":0.12},{"series":"L₁","x":12,"y":0.11},{"series":"L₁","x":12,"y":0.09},{"series":"L₁","x":12,"y":0.08},
   {"series":"L₁","x":13,"y":0.34},{"series":"L₁","x":13,"y":0.16},{"series":"L₁","x":13,"y":0.14},{"series":"L₁","x":13,"y":0.13},
   {"series":"L₁","x":14,"y":0.64},{"series":"L₁","x":14,"y":0.104},{"series":"L₁","x":14,"y":0.077},
   {"series":"L₂","x":6.2,"y":1.9},{"series":"L₂","x":6.2,"y":1.7},{"series":"L₂","x":6.2,"y":1.5},{"series":"L₂","x":6.2,"y":1.3},{"series":"L₂","x":6.2,"y":1.2},{"series":"L₂","x":6.2,"y":1.1},{"series":"L₂","x":6.2,"y":1.0},{"series":"L₂","x":6.2,"y":0.9},{"series":"L₂","x":6.2,"y":0.8},{"series":"L₂","x":6.2,"y":0.7},{"series":"L₂","x":6.2,"y":0.65},{"series":"L₂","x":6.2,"y":0.6},{"series":"L₂","x":6.2,"y":0.55},{"series":"L₂","x":6.2,"y":0.5},{"series":"L₂","x":6.2,"y":0.45},{"series":"L₂","x":6.2,"y":0.4},{"series":"L₂","x":6.2,"y":0.36},{"series":"L₂","x":6.2,"y":0.33},{"series":"L₂","x":6.2,"y":0.3},{"series":"L₂","x":6.2,"y":0.27},{"series":"L₂","x":6.2,"y":0.24},{"series":"L₂","x":6.2,"y":0.22},{"series":"L₂","x":6.2,"y":0.2},{"series":"L₂","x":6.2,"y":0.18},{"series":"L₂","x":6.2,"y":0.16},{"series":"L₂","x":6.2,"y":0.14},{"series":"L₂","x":6.2,"y":0.12},{"series":"L₂","x":6.2,"y":0.11},{"series":"L₂","x":6.2,"y":0.1},{"series":"L₂","x":6.2,"y":0.09},{"series":"L₂","x":6.2,"y":0.08},{"series":"L₂","x":6.2,"y":0.07},{"series":"L₂","x":6.2,"y":0.06},{"series":"L₂","x":6.2,"y":0.05},{"series":"L₂","x":6.2,"y":0.045},{"series":"L₂","x":6.2,"y":0.04},{"series":"L₂","x":6.2,"y":0.035},{"series":"L₂","x":6.2,"y":0.03},{"series":"L₂","x":6.2,"y":0.027},{"series":"L₂","x":6.2,"y":0.025},{"series":"L₂","x":6.2,"y":0.016},{"series":"L₂","x":6.2,"y":0.015},
   {"series":"L₂","x":7.2,"y":1.7},{"series":"L₂","x":7.2,"y":1.2},{"series":"L₂","x":7.2,"y":0.9},{"series":"L₂","x":7.2,"y":0.8},{"series":"L₂","x":7.2,"y":0.7},{"series":"L₂","x":7.2,"y":0.6},{"series":"L₂","x":7.2,"y":0.53},{"series":"L₂","x":7.2,"y":0.47},{"series":"L₂","x":7.2,"y":0.42},{"series":"L₂","x":7.2,"y":0.37},{"series":"L₂","x":7.2,"y":0.33},{"series":"L₂","x":7.2,"y":0.3},{"series":"L₂","x":7.2,"y":0.27},{"series":"L₂","x":7.2,"y":0.24},{"series":"L₂","x":7.2,"y":0.21},{"series":"L₂","x":7.2,"y":0.19},{"series":"L₂","x":7.2,"y":0.17},{"series":"L₂","x":7.2,"y":0.15},{"series":"L₂","x":7.2,"y":0.13},{"series":"L₂","x":7.2,"y":0.11},{"series":"L₂","x":7.2,"y":0.1},{"series":"L₂","x":7.2,"y":0.09},{"series":"L₂","x":7.2,"y":0.08},{"series":"L₂","x":7.2,"y":0.07},{"series":"L₂","x":7.2,"y":0.06},{"series":"L₂","x":7.2,"y":0.055},{"series":"L₂","x":7.2,"y":0.05},{"series":"L₂","x":7.2,"y":0.045},{"series":"L₂","x":7.2,"y":0.04},{"series":"L₂","x":7.2,"y":0.036},{"series":"L₂","x":7.2,"y":0.033},{"series":"L₂","x":7.2,"y":0.03},{"series":"L₂","x":7.2,"y":0.027},{"series":"L₂","x":7.2,"y":0.02},
   {"series":"L₂","x":8.2,"y":1.6},{"series":"L₂","x":8.2,"y":1.2},{"series":"L₂","x":8.2,"y":1.0},{"series":"L₂","x":8.2,"y":0.85},{"series":"L₂","x":8.2,"y":0.7},{"series":"L₂","x":8.2,"y":0.6},{"series":"L₂","x":8.2,"y":0.5},{"series":"L₂","x":8.2,"y":0.42},{"series":"L₂","x":8.2,"y":0.36},{"series":"L₂","x":8.2,"y":0.3},{"series":"L₂","x":8.2,"y":0.26},{"series":"L₂","x":8.2,"y":0.22},{"series":"L₂","x":8.2,"y":0.19},{"series":"L₂","x":8.2,"y":0.16},{"series":"L₂","x":8.2,"y":0.14},{"series":"L₂","x":8.2,"y":0.12},{"series":"L₂","x":8.2,"y":0.1},{"series":"L₂","x":8.2,"y":0.09},{"series":"L₂","x":8.2,"y":0.08},{"series":"L₂","x":8.2,"y":0.07},{"series":"L₂","x":8.2,"y":0.06},{"series":"L₂","x":8.2,"y":0.052},{"series":"L₂","x":8.2,"y":0.035},
   {"series":"L₂","x":9.2,"y":1.0},{"series":"L₂","x":9.2,"y":0.9},{"series":"L₂","x":9.2,"y":0.8},{"series":"L₂","x":9.2,"y":0.7},{"series":"L₂","x":9.2,"y":0.5},{"series":"L₂","x":9.2,"y":0.33},{"series":"L₂","x":9.2,"y":0.28},{"series":"L₂","x":9.2,"y":0.24},{"series":"L₂","x":9.2,"y":0.2},{"series":"L₂","x":9.2,"y":0.17},{"series":"L₂","x":9.2,"y":0.15},{"series":"L₂","x":9.2,"y":0.13},{"series":"L₂","x":9.2,"y":0.11},{"series":"L₂","x":9.2,"y":0.09},{"series":"L₂","x":9.2,"y":0.052},
   {"series":"L₂","x":10.2,"y":1.65},{"series":"L₂","x":10.2,"y":0.6},{"series":"L₂","x":10.2,"y":0.5},{"series":"L₂","x":10.2,"y":0.45},{"series":"L₂","x":10.2,"y":0.4},{"series":"L₂","x":10.2,"y":0.18},{"series":"L₂","x":10.2,"y":0.16},{"series":"L₂","x":10.2,"y":0.11},{"series":"L₂","x":10.2,"y":0.065},{"series":"L₂","x":10.2,"y":0.044},{"series":"L₂","x":10.2,"y":0.041},{"series":"L₂","x":10.2,"y":0.027},
   {"series":"L₂","x":11.2,"y":1.25},{"series":"L₂","x":11.2,"y":0.8},{"series":"L₂","x":11.2,"y":0.63},{"series":"L₂","x":11.2,"y":0.37},{"series":"L₂","x":11.2,"y":0.28},{"series":"L₂","x":11.2,"y":0.24},{"series":"L₂","x":11.2,"y":0.21},{"series":"L₂","x":11.2,"y":0.18},{"series":"L₂","x":11.2,"y":0.16},{"series":"L₂","x":11.2,"y":0.1},{"series":"L₂","x":11.2,"y":0.09},{"series":"L₂","x":11.2,"y":0.053},{"series":"L₂","x":11.2,"y":0.034},
   {"series":"L₂","x":12.2,"y":0.55},{"series":"L₂","x":12.2,"y":0.235},{"series":"L₂","x":12.2,"y":0.18},{"series":"L₂","x":12.2,"y":0.16},{"series":"L₂","x":12.2,"y":0.083},{"series":"L₂","x":12.2,"y":0.067},{"series":"L₂","x":12.2,"y":0.023},
   {"series":"L₂","x":13.2,"y":0.57},{"series":"L₂","x":13.2,"y":0.18},{"series":"L₂","x":13.2,"y":0.16},
   {"series":"L₂","x":14.2,"y":0.22},{"series":"L₂","x":14.2,"y":0.16},{"series":"L₂","x":14.2,"y":0.116},
   {"series":"L₃","x":6.4,"y":0.4},{"series":"L₃","x":6.4,"y":0.35},{"series":"L₃","x":6.4,"y":0.3},{"series":"L₃","x":6.4,"y":0.25},{"series":"L₃","x":6.4,"y":0.22},{"series":"L₃","x":6.4,"y":0.2},{"series":"L₃","x":6.4,"y":0.19},{"series":"L₃","x":6.4,"y":0.18},{"series":"L₃","x":6.4,"y":0.17},{"series":"L₃","x":6.4,"y":0.16},{"series":"L₃","x":6.4,"y":0.15},{"series":"L₃","x":6.4,"y":0.14},{"series":"L₃","x":6.4,"y":0.13},{"series":"L₃","x":6.4,"y":0.12},{"series":"L₃","x":6.4,"y":0.11},{"series":"L₃","x":6.4,"y":0.1},{"series":"L₃","x":6.4,"y":0.095},{"series":"L₃","x":6.4,"y":0.09},{"series":"L₃","x":6.4,"y":0.085},{"series":"L₃","x":6.4,"y":0.08},{"series":"L₃","x":6.4,"y":0.075},{"series":"L₃","x":6.4,"y":0.07},{"series":"L₃","x":6.4,"y":0.065},{"series":"L₃","x":6.4,"y":0.06},{"series":"L₃","x":6.4,"y":0.055},{"series":"L₃","x":6.4,"y":0.05},{"series":"L₃","x":6.4,"y":0.045},{"series":"L₃","x":6.4,"y":0.04},{"series":"L₃","x":6.4,"y":0.037},{"series":"L₃","x":6.4,"y":0.034},{"series":"L₃","x":6.4,"y":0.031},{"series":"L₃","x":6.4,"y":0.028},{"series":"L₃","x":6.4,"y":0.025},{"series":"L₃","x":6.4,"y":0.023},{"series":"L₃","x":6.4,"y":0.021},{"series":"L₃","x":6.4,"y":0.019},{"series":"L₃","x":6.4,"y":0.017},{"series":"L₃","x":6.4,"y":0.015},{"series":"L₃","x":6.4,"y":0.014},{"series":"L₃","x":6.4,"y":0.013},{"series":"L₃","x":6.4,"y":0.012},{"series":"L₃","x":6.4,"y":0.011},{"series":"L₃","x":6.4,"y":0.01},{"series":"L₃","x":6.4,"y":0.009},{"series":"L₃","x":6.4,"y":0.008},{"series":"L₃","x":6.4,"y":0.007},{"series":"L₃","x":6.4,"y":0.006},{"series":"L₃","x":6.4,"y":0.005},{"series":"L₃","x":6.4,"y":0.0045},{"series":"L₃","x":6.4,"y":0.004},{"series":"L₃","x":6.4,"y":0.0032},{"series":"L₃","x":6.4,"y":0.0024},
   {"series":"L₃","x":7.4,"y":0.21},{"series":"L₃","x":7.4,"y":0.15},{"series":"L₃","x":7.4,"y":0.13},{"series":"L₃","x":7.4,"y":0.12},{"series":"L₃","x":7.4,"y":0.11},{"series":"L₃","x":7.4,"y":0.1},{"series":"L₃","x":7.4,"y":0.09},{"series":"L₃","x":7.4,"y":0.085},{"series":"L₃","x":7.4,"y":0.08},{"series":"L₃","x":7.4,"y":0.075},{"series":"L₃","x":7.4,"y":0.07},{"series":"L₃","x":7.4,"y":0.065},{"series":"L₃","x":7.4,"y":0.06},{"series":"L₃","x":7.4,"y":0.055},{"series":"L₃","x":7.4,"y":0.05},{"series":"L₃","x":7.4,"y":0.045},{"series":"L₃","x":7.4,"y":0.04},{"series":"L₃","x":7.4,"y":0.036},{"series":"L₃","x":7.4,"y":0.033},{"series":"L₃","x":7.4,"y":0.03},{"series":"L₃","x":7.4,"y":0.027},{"series":"L₃","x":7.4,"y":0.025},{"series":"L₃","x":7.4,"y":0.022},{"series":"L₃","x":7.4,"y":0.02},{"series":"L₃","x":7.4,"y":0.018},{"series":"L₃","x":7.4,"y":0.014},{"series":"L₃","x":7.4,"y":0.012},{"series":"L₃","x":7.4,"y":0.01},{"series":"L₃","x":7.4,"y":0.009},{"series":"L₃","x":7.4,"y":0.008},{"series":"L₃","x":7.4,"y":0.0062},{"series":"L₃","x":7.4,"y":0.006},{"series":"L₃","x":7.4,"y":0.0033},{"series":"L₃","x":7.4,"y":0.0012},
   {"series":"L₃","x":8.4,"y":0.21},{"series":"L₃","x":8.4,"y":0.19},{"series":"L₃","x":8.4,"y":0.17},{"series":"L₃","x":8.4,"y":0.14},{"series":"L₃","x":8.4,"y":0.12},{"series":"L₃","x":8.4,"y":0.1},{"series":"L₃","x":8.4,"y":0.09},{"series":"L₃","x":8.4,"y":0.08},{"series":"L₃","x":8.4,"y":0.07},{"series":"L₃","x":8.4,"y":0.06},{"series":"L₃","x":8.4,"y":0.05},{"series":"L₃","x":8.4,"y":0.045},{"series":"L₃","x":8.4,"y":0.04},{"series":"L₃","x":8.4,"y":0.035},{"series":"L₃","x":8.4,"y":0.03},{"series":"L₃","x":8.4,"y":0.025},{"series":"L₃","x":8.4,"y":0.022},{"series":"L₃","x":8.4,"y":0.02},{"series":"L₃","x":8.4,"y":0.016},{"series":"L₃","x":8.4,"y":0.013},{"series":"L₃","x":8.4,"y":0.006},{"series":"L₃","x":8.4,"y":0.0052},{"series":"L₃","x":8.4,"y":0.0042},{"series":"L₃","x":8.4,"y":0.0037},
   {"series":"L₃","x":9.4,"y":0.17},{"series":"L₃","x":9.4,"y":0.15},{"series":"L₃","x":9.4,"y":0.13},{"series":"L₃","x":9.4,"y":0.1},{"series":"L₃","x":9.4,"y":0.085},{"series":"L₃","x":9.4,"y":0.07},{"series":"L₃","x":9.4,"y":0.06},{"series":"L₃","x":9.4,"y":0.055},{"series":"L₃","x":9.4,"y":0.05},{"series":"L₃","x":9.4,"y":0.045},{"series":"L₃","x":9.4,"y":0.04},{"series":"L₃","x":9.4,"y":0.035},{"series":"L₃","x":9.4,"y":0.03},{"series":"L₃","x":9.4,"y":0.028},{"series":"L₃","x":9.4,"y":0.017},{"series":"L₃","x":9.4,"y":0.015},{"series":"L₃","x":9.4,"y":0.012},{"series":"L₃","x":9.4,"y":0.009},{"series":"L₃","x":9.4,"y":0.0065},{"series":"L₃","x":9.4,"y":0.0052},{"series":"L₃","x":9.4,"y":0.0043},
   {"series":"L₃","x":10.4,"y":0.3},{"series":"L₃","x":10.4,"y":0.11},{"series":"L₃","x":10.4,"y":0.1},{"series":"L₃","x":10.4,"y":0.085},{"series":"L₃","x":10.4,"y":0.04},{"series":"L₃","x":10.4,"y":0.037},{"series":"L₃","x":10.4,"y":0.029},{"series":"L₃","x":10.4,"y":0.015},{"series":"L₃","x":10.4,"y":0.011},{"series":"L₃","x":10.4,"y":0.0066},
   {"series":"L₃","x":11.4,"y":0.2},{"series":"L₃","x":11.4,"y":0.14},{"series":"L₃","x":11.4,"y":0.12},{"series":"L₃","x":11.4,"y":0.1},{"series":"L₃","x":11.4,"y":0.09},{"series":"L₃","x":11.4,"y":0.08},{"series":"L₃","x":11.4,"y":0.07},{"series":"L₃","x":11.4,"y":0.045},{"series":"L₃","x":11.4,"y":0.038},{"series":"L₃","x":11.4,"y":0.033},{"series":"L₃","x":11.4,"y":0.03},{"series":"L₃","x":11.4,"y":0.026},{"series":"L₃","x":11.4,"y":0.017},{"series":"L₃","x":11.4,"y":0.0115},
   {"series":"L₃","x":12.4,"y":0.14},{"series":"L₃","x":12.4,"y":0.05},{"series":"L₃","x":12.4,"y":0.045},{"series":"L₃","x":12.4,"y":0.034},{"series":"L₃","x":12.4,"y":0.021},{"series":"L₃","x":12.4,"y":0.0073},
   {"series":"L₃","x":13.4,"y":0.062},{"series":"L₃","x":13.4,"y":0.017},{"series":"L₃","x":13.4,"y":0.0053},
   {"series":"L₃","x":14.4,"y":0.057},{"series":"L₃","x":14.4,"y":0.035},{"series":"L₃","x":14.4,"y":0.032},
   {"series":"L₄","x":6.6,"y":2.7},{"series":"L₄","x":6.6,"y":2.4},{"series":"L₄","x":6.6,"y":2.2},{"series":"L₄","x":6.6,"y":2.0},{"series":"L₄","x":6.6,"y":1.8},{"series":"L₄","x":6.6,"y":1.6},{"series":"L₄","x":6.6,"y":1.5},{"series":"L₄","x":6.6,"y":1.4},{"series":"L₄","x":6.6,"y":1.3},{"series":"L₄","x":6.6,"y":1.2},{"series":"L₄","x":6.6,"y":1.15},{"series":"L₄","x":6.6,"y":1.1},{"series":"L₄","x":6.6,"y":1.05},{"series":"L₄","x":6.6,"y":1.0},{"series":"L₄","x":6.6,"y":0.95},{"series":"L₄","x":6.6,"y":0.9},{"series":"L₄","x":6.6,"y":0.85},{"series":"L₄","x":6.6,"y":0.8},{"series":"L₄","x":6.6,"y":0.75},{"series":"L₄","x":6.6,"y":0.7},{"series":"L₄","x":6.6,"y":0.65},{"series":"L₄","x":6.6,"y":0.6},{"series":"L₄","x":6.6,"y":0.55},{"series":"L₄","x":6.6,"y":0.5},{"series":"L₄","x":6.6,"y":0.45},{"series":"L₄","x":6.6,"y":0.4},{"series":"L₄","x":6.6,"y":0.35},{"series":"L₄","x":6.6,"y":0.3},{"series":"L₄","x":6.6,"y":0.27},{"series":"L₄","x":6.6,"y":0.25},{"series":"L₄","x":6.6,"y":0.145},
   {"series":"L₄","x":7.6,"y":2.6},{"series":"L₄","x":7.6,"y":2.3},{"series":"L₄","x":7.6,"y":2.0},{"series":"L₄","x":7.6,"y":1.8},{"series":"L₄","x":7.6,"y":1.6},{"series":"L₄","x":7.6,"y":1.4},{"series":"L₄","x":7.6,"y":1.3},{"series":"L₄","x":7.6,"y":1.2},{"series":"L₄","x":7.6,"y":1.15},{"series":"L₄","x":7.6,"y":1.1},{"series":"L₄","x":7.6,"y":1.05},{"series":"L₄","x":7.6,"y":1.0},{"series":"L₄","x":7.6,"y":0.95},{"series":"L₄","x":7.6,"y":0.9},{"series":"L₄","x":7.6,"y":0.85},{"series":"L₄","x":7.6,"y":0.8},{"series":"L₄","x":7.6,"y":0.75},{"series":"L₄","x":7.6,"y":0.7},{"series":"L₄","x":7.6,"y":0.6},{"series":"L₄","x":7.6,"y":0.5},{"series":"L₄","x":7.6,"y":0.45},{"series":"L₄","x":7.6,"y":0.4},{"series":"L₄","x":7.6,"y":0.37},{"series":"L₄","x":7.6,"y":0.27},
   {"series":"L₄","x":8.6,"y":2.1},{"series":"L₄","x":8.6,"y":1.4},{"series":"L₄","x":8.6,"y":1.2},{"series":"L₄","x":8.6,"y":1.0},{"series":"L₄","x":8.6,"y":0.9},{"series":"L₄","x":8.6,"y":0.8},{"series":"L₄","x":8.6,"y":0.7},{"series":"L₄","x":8.6,"y":0.6},{"series":"L₄","x":8.6,"y":0.5},{"series":"L₄","x":8.6,"y":0.45},{"series":"L₄","x":8.6,"y":0.37},{"series":"L₄","x":8.6,"y":0.2},{"series":"L₄","x":8.6,"y":0.095},
   {"series":"L₄","x":9.6,"y":2.0},{"series":"L₄","x":9.6,"y":1.25},{"series":"L₄","x":9.6,"y":1.1},{"series":"L₄","x":9.6,"y":1.0},{"series":"L₄","x":9.6,"y":0.9},{"series":"L₄","x":9.6,"y":0.75},{"series":"L₄","x":9.6,"y":0.6},{"series":"L₄","x":9.6,"y":0.37},{"series":"L₄","x":9.6,"y":0.29},
   {"series":"L₄","x":10.6,"y":2.9},{"series":"L₄","x":10.6,"y":1.25},{"series":"L₄","x":10.6,"y":1.0},{"series":"L₄","x":10.6,"y":0.85},{"series":"L₄","x":10.6,"y":0.63},{"series":"L₄","x":10.6,"y":0.52},{"series":"L₄","x":10.6,"y":0.33},
   {"series":"L₄","x":11.6,"y":1.85},{"series":"L₄","x":11.6,"y":1.2},{"series":"L₄","x":11.6,"y":1.1},{"series":"L₄","x":11.6,"y":1.0},{"series":"L₄","x":11.6,"y":0.95},{"series":"L₄","x":11.6,"y":0.9},{"series":"L₄","x":11.6,"y":0.72},
   {"series":"L₄","x":12.6,"y":2.2},{"series":"L₄","x":12.6,"y":1.05},{"series":"L₄","x":12.6,"y":1.0},{"series":"L₄","x":12.6,"y":0.72},{"series":"L₄","x":12.6,"y":0.22},
   {"series":"L₄","x":13.6,"y":0.8},{"series":"L₄","x":13.6,"y":0.57},{"series":"L₄","x":13.6,"y":0.32},
   {"series":"L₄","x":14.6,"y":1.7},{"series":"L₄","x":14.6,"y":1.0},{"series":"L₄","x":14.6,"y":0.95}
  ]
 },
 "hconcat": [
  {
   "width": 330, "height": 211,
   "data": {"name": "p1"},
   "mark": {"type": "circle", "size": 50, "opacity": 1},
   "encoding": {
    "x": {"field": "galaxy", "type": "nominal", "sort": null, "scale": {"type": "point", "padding": 0.95}, "axis": {"title": null, "labelAngle": -90, "labelFontSize": 13.5, "labelPadding": 3}},
    "y": {"field": "v", "type": "quantitative", "scale": {"domain": [-400, 745], "nice": false, "zero": false}, "axis": {"values": [-400, -200, 0, 200, 400, 600], "title": "|v_infj| [km/s]", "labelFontSize": 13.5, "titlePadding": 5}},
    "color": {"field": "series", "type": "nominal", "sort": null, "scale": {"domain": ["vₘᵢₙⱼ", "vₘₐⱼⱼ", "|v_lcm| − |v_lj|"], "range": ["#0000ff", "#ff0000", "#000000"]}, "legend": {"title": null, "orient": "top-right", "offset": 7, "labelFontSize": 14, "rowPadding": 8, "symbolSize": 50, "symbolOffset": 10, "labelOffset": 12, "padding": 5}}
   }
  },
  {
   "width": 329, "height": 252,
   "layer": [
    {"data": {"name": "bands"}, "transform": [{"filter": "datum.band == 'major'"}], "mark": {"type": "area", "color": "#ff0000", "opacity": 0.17, "clip": true},
     "encoding": {"x": {"field": "x", "type": "quantitative", "scale": {"domain": [0, 250], "nice": false}, "axis": {"values": [0, 50, 100, 150, 200, 250], "title": "σᵥᵣⱼ [km/s]"}},
      "y": {"field": "hi", "type": "quantitative", "scale": {"domain": [0, 811], "nice": false}, "axis": {"values": [0, 100, 200, 300, 400, 500, 600, 700, 800], "title": "σ_v,infj [km/s]", "titlePadding": 7}}, "y2": {"field": "lo"}}},
    {"data": {"name": "bands"}, "transform": [{"filter": "datum.band == 'dv'"}], "mark": {"type": "area", "color": "#000000", "opacity": 0.15, "clip": true},
     "encoding": {"x": {"field": "x", "type": "quantitative"}, "y": {"field": "hi", "type": "quantitative"}, "y2": {"field": "lo"}}},
    {"data": {"name": "bands"}, "transform": [{"filter": "datum.band == 'minor'"}], "mark": {"type": "area", "color": "#9ecae1", "opacity": 0.35, "clip": true},
     "encoding": {"x": {"field": "x", "type": "quantitative"}, "y": {"field": "hi", "type": "quantitative"}, "y2": {"field": "lo"}}},
    {"data": {"name": "p2"}, "mark": {"type": "circle", "size": 50, "opacity": 1, "clip": true},
     "encoding": {"x": {"field": "x", "type": "quantitative"}, "y": {"field": "y", "type": "quantitative"},
      "color": {"field": "series", "type": "nominal", "sort": null, "scale": {"domain": ["σᵥᵣ,ₘᵢₙⱼ", "σᵥᵣ,ₘₐⱼⱼ", "σΔᵥₗ"], "range": ["#0000ff", "#ff0000", "rgba(60,60,60,0.6)"]}, "legend": {"title": null, "orient": "top-left", "offset": 9, "labelFontSize": 15, "rowPadding": 7, "symbolSize": 50, "symbolOffset": 8, "labelOffset": 14, "padding": 5}}}},
    {"data": {"name": "fits"}, "transform": [{"filter": "datum.fit == 'major'"}], "mark": {"type": "line", "color": "#ff0000", "strokeWidth": 1.3, "strokeDash": [5, 3], "clip": true},
     "encoding": {"x": {"field": "x", "type": "quantitative"}, "y": {"field": "y", "type": "quantitative"}}},
    {"data": {"name": "fits"}, "transform": [{"filter": "datum.fit == 'dv2'"}], "mark": {"type": "line", "color": "#000000", "strokeWidth": 1.5, "strokeDash": [5, 3], "clip": true},
     "encoding": {"x": {"field": "x", "type": "quantitative"}, "y": {"field": "y", "type": "quantitative"}}},
    {"data": {"name": "fits"}, "transform": [{"filter": "datum.fit == 'dv'"}], "mark": {"type": "line", "color": "#000000", "strokeWidth": 1.6, "clip": true},
     "encoding": {"x": {"field": "x", "type": "quantitative"}, "y": {"field": "y", "type": "quantitative"}}},
    {"data": {"name": "fits"}, "transform": [{"filter": "datum.fit == 'minor'"}], "mark": {"type": "line", "color": "#0000ff", "strokeWidth": 1.6, "strokeDash": [6, 3], "clip": true},
     "encoding": {"x": {"field": "x", "type": "quantitative"}, "y": {"field": "y", "type": "quantitative"}}},
    {"data": {"values": [{}]}, "mark": {"type": "rule", "color": "#ff0000", "strokeWidth": 1.5, "strokeDash": [1.5, 2]}, "encoding": {"y": {"datum": 565, "type": "quantitative"}}},
    {"data": {"values": [{}]}, "mark": {"type": "rule", "color": "#000000", "strokeWidth": 1.5, "strokeDash": [1.5, 1.5]}, "encoding": {"y": {"datum": 103, "type": "quantitative"}}},
    {"data": {"values": [{}]}, "mark": {"type": "rule", "color": "#0000ff", "strokeWidth": 1.5, "strokeDash": [1.5, 1.5]}, "encoding": {"y": {"datum": 99, "type": "quantitative"}}},
    {"data": {"values": [{}]}, "mark": {"type": "text", "text": "M81 σᵥₐₚₚⱼ", "color": "#ff0000", "fontSize": 15, "align": "right", "baseline": "alphabetic"}, "encoding": {"x": {"datum": 249, "type": "quantitative"}, "y": {"datum": 580, "type": "quantitative"}}},
    {"data": {"values": [{}]}, "mark": {"type": "text", "text": "M81 σᵥₐₚₚⱼ", "color": "#000000", "fontSize": 15, "align": "right", "baseline": "alphabetic"}, "encoding": {"x": {"datum": 249, "type": "quantitative"}, "y": {"datum": 121, "type": "quantitative"}}},
    {"data": {"values": [{}]}, "mark": {"type": "text", "text": "M81 σᵥₘᵢₙⱼ", "color": "#0000ff", "fontSize": 15, "align": "right", "baseline": "alphabetic"}, "encoding": {"x": {"datum": 249, "type": "quantitative"}, "y": {"datum": 47, "type": "quantitative"}}}
   ]
  },
  {
   "width": 333, "height": 257,
   "data": {"name": "p3"},
   "mark": {"type": "circle", "size": 40},
   "encoding": {
    "x": {"field": "x", "type": "quantitative", "scale": {"domain": [5.5, 16.2], "nice": false, "zero": false}, "axis": {"values": [6, 7, 8, 9, 10, 11, 12, 13, 14, 15, 16], "format": "d", "title": "n_subhalo", "titleFontSize": 12, "titlePadding": 4}},
    "y": {"field": "y", "type": "quantitative", "scale": {"type": "log", "domain": [0.00077, 4.17], "nice": false}, "axis": {"values": [0.0008, 0.0009, 0.001, 0.002, 0.003, 0.004, 0.005, 0.006, 0.007, 0.008, 0.009, 0.01, 0.02, 0.03, 0.04, 0.05, 0.06, 0.07, 0.08, 0.09, 0.1, 0.2, 0.3, 0.4, 0.5, 0.6, 0.7, 0.8, 0.9, 1, 2, 3], "labelOverlap": false, "labelFontSize": 14, "labelExpr": "datum.value == 1 ? '10⁰' : datum.value == 0.1 ? '10⁻¹' : datum.value == 0.01 ? '10⁻²' : datum.value == 0.001 ? '10⁻³' : ''", "tickSize": {"condition": {"test": "indexof([1, 0.1, 0.01, 0.001], datum.value) >= 0", "value": 4}, "value": 2}, "title": "||Lⱼ/L||₂", "titlePadding": 11}},
    "color": {"field": "series", "type": "nominal", "sort": null, "scale": {"domain": ["L₁", "L₂", "L₃", "L₄"], "range": ["#0000ff", "#ff0000", "rgba(0,0,0,0.35)", "rgba(0,128,0,0.25)"]}, "legend": {"title": null, "orient": "bottom-right", "offset": 15, "labelFontSize": 15, "labelFontWeight": "bold", "labelFontStyle": "italic", "rowPadding": 6, "symbolSize": 50, "symbolOffset": 8, "labelOffset": 14, "padding": 5}}
   }
  }
 ]
}
